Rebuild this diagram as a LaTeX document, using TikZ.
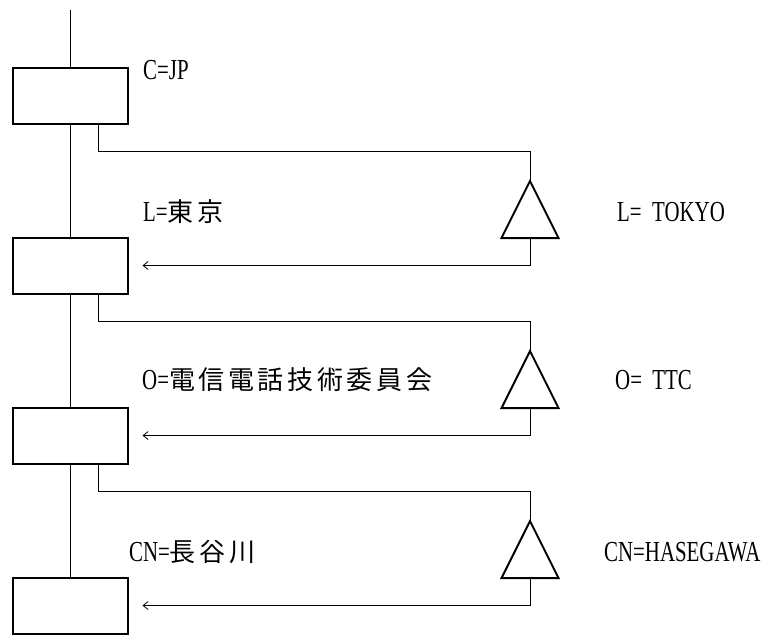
\documentclass[tikz,border=0pt]{standalone}
\usepackage{fontspec}
\setmainfont{Liberation Serif}[FakeStretch=0.72]
\newfontfamily\jp{Noto Sans CJK JP}[LetterSpace=14, FakeStretch=1]
\usetikzlibrary{arrows.meta,shapes.geometric}
\tikzset{
  box/.style={draw, line width=2pt, minimum width=115pt, minimum height=56pt, inner sep=0pt, outer sep=0pt},
  tri/.style={draw, line width=2pt, isosceles triangle, isosceles triangle stretches, shape border rotate=90,
              minimum width=57pt, minimum height=57pt, inner sep=0pt, outer sep=0pt, anchor=north},
  conn/.style={line width=0.8pt},
  arr/.style={conn, -{Straight Barb[length=5pt,width=8pt]}},
  lab/.style={anchor=base west, inner sep=0pt, font=\fontsize{29}{32}\selectfont},
  jplab/.style={font=\fontsize{26}{30}\selectfont\jp},
}
\begin{document}
\begin{tikzpicture}[x=1pt,y=-1pt]
\useasboundingbox (0,0) rectangle (764,635);
\node[box] (b1) at (70,95.5) {};
\node[box] (b2) at (70,265.5) {};
\node[box] (b3) at (70,435.5) {};
\node[box] (b4) at (70,605.5) {};
\coordinate (top) at (70,10);
\node[tri] (t1) at (530,181) {};
\node[tri] (t2) at (530,351) {};
\node[tri] (t3) at (530,521) {};
\draw[conn] (top) -- (b1.north);
\draw[conn] (b1.south) -- (b2.north);
\draw[conn] (b2.south) -- (b3.north);
\draw[conn] (b3.south) -- (b4.north);
\draw[conn] ([xshift=28pt]b1.south) -- ++(0,28) -| (t1.north);
\draw[conn] ([xshift=28pt]b2.south) -- ++(0,28) -| (t2.north);
\draw[conn] ([xshift=28pt]b3.south) -- ++(0,28) -| (t3.north);
\draw[arr] (t1.south) |- ([xshift=15pt]b2.east);
\draw[arr] (t2.south) |- ([xshift=15pt]b3.east);
\draw[arr] (t3.south) |- ([xshift=15pt]b4.east);
\node[lab] (c) at (143,79) {C=JP};
\node[lab] (l) at (143,221) {L={\fontsize{26}{30}\selectfont\jp 東京}};
\node[lab] (o) at (142,389) {O={\fontsize{26}{30}\selectfont\jp 電信電話技術委員会}};
\node[lab] (cn) at (129,561) {CN={\fontsize{26}{30}\selectfont\jp 長谷川}};
\node[lab] (le) at (617,221) {L=\ \ TOKYO};
\node[lab] (oe) at (615,389) {O=\ \ TTC};
\node[lab] (cne) at (604,561) {CN=HASEGAWA};
\end{tikzpicture}
\end{document}
